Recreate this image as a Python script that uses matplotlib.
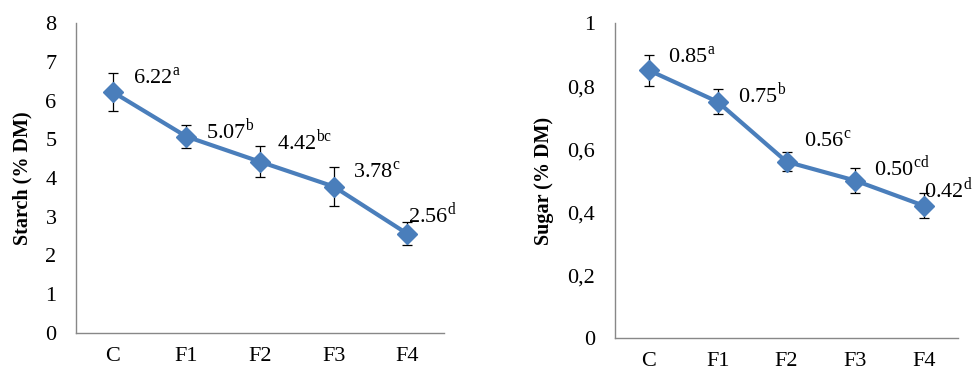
import matplotlib
matplotlib.use("Agg")
import matplotlib.pyplot as plt

categories = ["C", "F1", "F2", "F3", "F4"]

starch = [6.22, 5.07, 4.42, 3.78, 2.56]
starch_err = [0.50, 0.30, 0.40, 0.50, 0.30]
starch_letters = ["a", "b", "bc", "c", "d"]

sugar = [0.85, 0.75, 0.56, 0.50, 0.42]
sugar_err = [0.05, 0.04, 0.03, 0.04, 0.04]
sugar_letters = ["a", "b", "c", "cd", "d"]

plt.rcParams["font.family"] = ["Liberation Serif", "DejaVu Serif"]
plt.rcParams["mathtext.fontset"] = "custom"
plt.rcParams["mathtext.rm"] = "Liberation Serif"

LINE = "#4a7ebb"
SPINE = "#888888"

fig = plt.figure(figsize=(9.74, 3.72), dpi=100)
ax1 = fig.add_axes([0.078, 0.105, 0.378, 0.833])
ax2 = fig.add_axes([0.631, 0.091, 0.353, 0.847])


def panel(ax, vals, errs, letters, ylabel, ymax, step, fmt, offsets, label_x):
    x = list(range(len(categories)))
    ax.errorbar(x, vals, yerr=errs, fmt="none", ecolor="black",
                elinewidth=0.9, capsize=3.5, capthick=0.9, zorder=2)
    ax.plot(x, vals, color=LINE, lw=3, marker="D", markersize=10,
            markeredgecolor=LINE, zorder=3)
    for xi, v, let, off in zip(x, vals, letters, offsets):
        ax.annotate(f"{v:.2f}" + r"$^{\mathrm{" + let + "}}$", (xi, v),
                    xytext=off, textcoords="offset pixels",
                    ha="left", va="center", fontsize=16)
    ax.set_xlim(-0.5, len(categories) - 0.5)
    ax.set_ylim(0, ymax)
    ticks = [i * step for i in range(int(round(ymax / step)) + 1)]
    ax.set_yticks(ticks)
    ax.set_yticklabels([fmt(t) for t in ticks])
    ax.set_xticks(x)
    ax.set_xticklabels(categories)
    ax.tick_params(axis="y", length=0, pad=14, labelsize=16)
    ax.tick_params(axis="x", length=0, pad=10, labelsize=16)
    for s in ("top", "right"):
        ax.spines[s].set_visible(False)
    for s in ("left", "bottom"):
        ax.spines[s].set_color(SPINE)
        ax.spines[s].set_linewidth(1)
    ax.set_ylabel(ylabel, fontsize=14.5, fontweight="bold")
    ax.yaxis.set_label_coords(label_x, 0.5)


panel(ax1, starch, starch_err, starch_letters, "Starch (% DM)", 8, 1,
      lambda t: f"{t:g}",
      [(20, 14), (20, 6), (17, 20), (19, 14), (1, 19)], -0.118)
panel(ax2, sugar, sugar_err, sugar_letters, "Sugar (% DM)", 1, 0.2,
      lambda t: f"{t:g}".replace(".", ","),
      [(19, 13), (20, 7), (17, 20), (19, 13), (0, 16)], -0.176)

fig.savefig("out.png", dpi=100)
